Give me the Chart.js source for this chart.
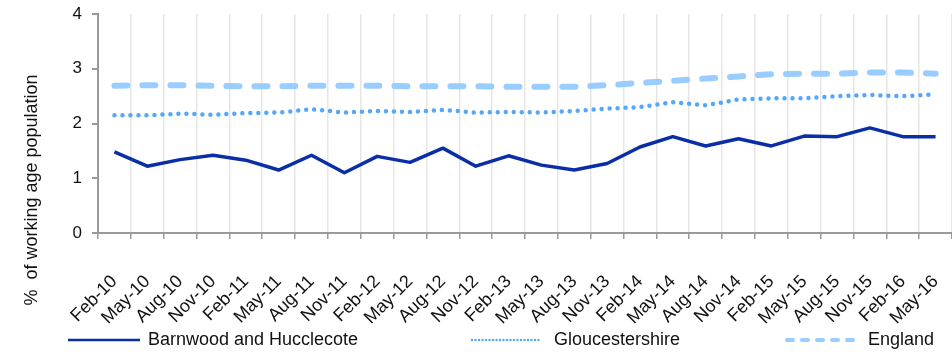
<!DOCTYPE html>
<html>
<head>
<meta charset="utf-8">
<script src="https://cdn.jsdelivr.net/npm/chart.js@4.4.0/dist/chart.umd.min.js"></script>
<style>
  html, body { margin: 0; padding: 0; background: #fff; }
  #wrap { width: 952px; height: 352px; }
</style>
</head>
<body>
<div id="wrap"><canvas id="claimant-rate-chart"></canvas></div>
<script>
const quarters = ['Feb-10', 'May-10', 'Aug-10', 'Nov-10', 'Feb-11', 'May-11', 'Aug-11', 'Nov-11',
  'Feb-12', 'May-12', 'Aug-12', 'Nov-12', 'Feb-13', 'May-13', 'Aug-13', 'Nov-13',
  'Feb-14', 'May-14', 'Aug-14', 'Nov-14', 'Feb-15', 'May-15', 'Aug-15', 'Nov-15',
  'Feb-16', 'May-16'];
const barnwood = [1.48, 1.22, 1.34, 1.42, 1.33, 1.15, 1.42, 1.10, 1.40, 1.29, 1.55, 1.22, 1.41,
  1.24, 1.15, 1.27, 1.57, 1.76, 1.59, 1.72, 1.59, 1.77, 1.76, 1.92, 1.76, 1.76];
const gloucestershire = [2.15, 2.15, 2.18, 2.16, 2.19, 2.20, 2.26, 2.20, 2.23, 2.21, 2.25, 2.20, 2.21,
  2.20, 2.23, 2.27, 2.30, 2.39, 2.33, 2.44, 2.46, 2.46, 2.50, 2.52, 2.50, 2.53];
const england = [2.69, 2.70, 2.70, 2.69, 2.68, 2.68, 2.69, 2.69, 2.69, 2.68, 2.68, 2.68, 2.67,
  2.67, 2.67, 2.70, 2.74, 2.78, 2.82, 2.86, 2.90, 2.91, 2.91, 2.93, 2.93, 2.91];
const yTitle = '%  of working age population';

const font_family = '"Liberation Sans", Arial, sans-serif';
const axis_grey = '#999999';

// legend + rotated axis title drawn by hand, Excel style
const excel_extras = {
  id: 'excel_extras',
  afterDraw(chart) {
    const ctx = chart.ctx;
    const slots = [[68, 140, 148], [472, 542, 554], [787, 858, 868]];
    const samples = [
      { width: 2.5, dash: [], cap: 'butt' },
      { width: 2.5, dash: [0, 3.5], cap: 'round' },
      { width: 4, dash: [6, 9], cap: 'round' }
    ];
    const y = 340;
    ctx.save();
    chart.data.datasets.forEach((ds, i) => {
      const s = slots[i], st = samples[i];
      ctx.beginPath();
      ctx.strokeStyle = ds.borderColor;
      ctx.lineWidth = st.width;
      ctx.lineCap = st.cap;
      ctx.setLineDash(st.dash);
      ctx.moveTo(s[0], y);
      ctx.lineTo(s[1], y);
      ctx.stroke();
      ctx.setLineDash([]);
      ctx.fillStyle = '#111';
      ctx.font = '18px ' + font_family;
      ctx.textAlign = 'left';
      ctx.textBaseline = 'middle';
      ctx.fillText(ds.label, s[2], y);
    });
    ctx.translate(32, 190);
    ctx.rotate(-Math.PI / 2);
    ctx.textAlign = 'center';
    ctx.fillText(yTitle, 0, 0);
    ctx.restore();
  }
};

const ctx = document.getElementById('claimant-rate-chart').getContext('2d');
new Chart(ctx, {
  type: 'line',
  data: {
    labels: quarters,
    datasets: [
      {
        label: 'Barnwood and Hucclecote',
        data: barnwood,
        borderColor: '#0A2EA6',
        borderWidth: 3.5,
        borderJoinStyle: 'round'
      },
      {
        label: 'Gloucestershire',
        data: gloucestershire,
        borderColor: '#55A8F7',
        borderWidth: 4.5,
        borderDash: [0, 8],
        borderCapStyle: 'round'
      },
      {
        label: 'England',
        data: england,
        borderColor: '#99CCFF',
        borderWidth: 6,
        borderDash: [13, 15],
        borderCapStyle: 'round'
      }
    ]
  },
  options: {
    responsive: true,
    maintainAspectRatio: false,
    animation: false,
    layout: { padding: { top: 14, right: -4, bottom: 0, left: 0 } },
    elements: {
      point: { radius: 0, hoverRadius: 0 },
      line: { tension: 0, fill: false }
    },
    scales: {
      x: {
        offset: true,
        grid: {
          offset: true,
          color: '#e6e6e6',
          lineWidth: 1.5,
          tickColor: axis_grey,
          tickLength: 6
        },
        border: { color: axis_grey, width: 2 },
        ticks: {
          autoSkip: false,
          maxRotation: 45,
          minRotation: 45,
          padding: 32,
          color: '#111',
          font: { family: font_family, size: 18 }
        },
        afterFit: function(scale) {
          scale.height = 119;
          scale.paddingLeft = 0;
          scale.paddingRight = 0;
        }
      },
      y: {
        min: 0,
        max: 4,
        ticks: {
          stepSize: 1,
          padding: 10,
          color: '#111',
          font: { family: font_family, size: 17 }
        },
        grid: {
          drawOnChartArea: false,
          color: axis_grey,
          tickLength: 6,
          lineWidth: 2
        },
        border: { color: axis_grey, width: 2 },
        afterFit: function(scale) {
          scale.width = 98;
          scale.paddingTop = 0;
          scale.paddingBottom = 0;
        }
      }
    },
    plugins: {
      legend: { display: false },
      tooltip: { enabled: false }
    }
  },
  plugins: [excel_extras]
});
</script>
</body>
</html>
